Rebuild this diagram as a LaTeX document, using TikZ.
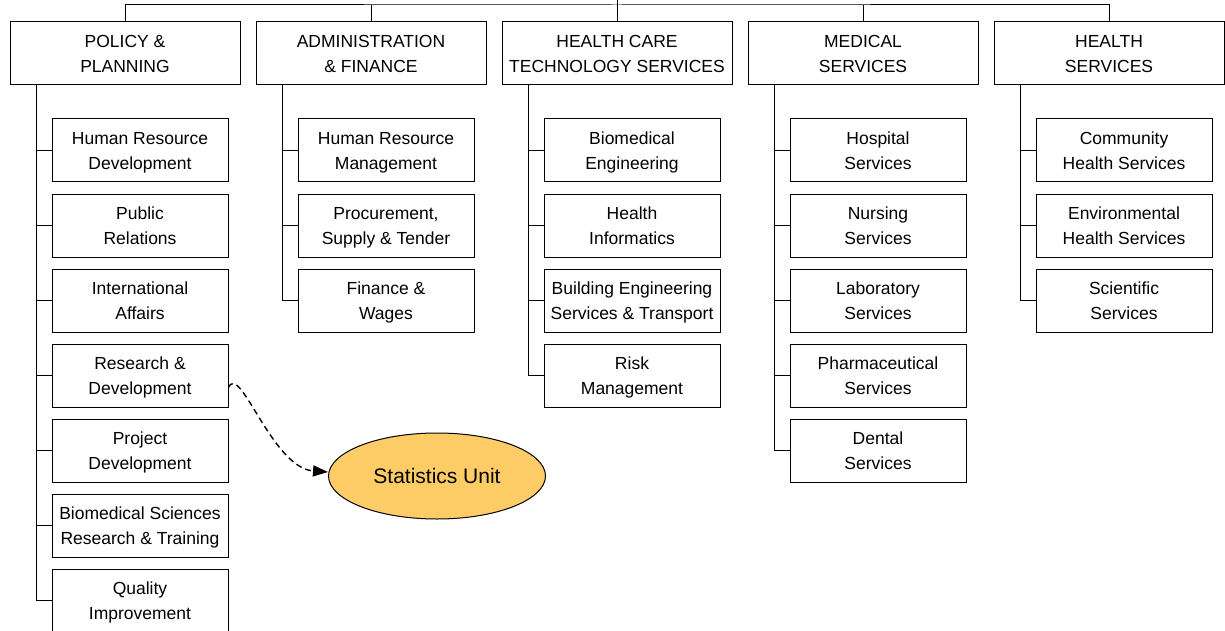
\documentclass[tikz,border=0pt]{standalone}
\usepackage{fontspec}
\setmainfont{Liberation Sans}
\usetikzlibrary{shapes.geometric,arrows.meta}
\definecolor{statfill}{RGB}{254,204,102}
\tikzset{
  base/.style={draw, line width=1pt, rectangle, align=center, inner sep=0pt,
    font=\fontsize{17.5}{25}\selectfont, text depth=0pt},
  head/.style={base, minimum width=230pt, minimum height=63pt},
  child/.style={base, minimum width=176pt, minimum height=63pt},
  conn/.style={line width=1pt},
  unit/.style={draw, line width=1pt, ellipse, fill=statfill, minimum width=217pt,
    minimum height=86pt, inner sep=0pt, font=\fontsize{21}{25}\selectfont},
  dashlink/.style={line width=1.4pt, dash pattern=on 6pt off 4pt,
    -{Triangle[length=15pt,width=11pt]}}
}
\begin{document}
\begin{tikzpicture}[x=1pt,y=-1pt]
\useasboundingbox (0,0) rectangle (1225,631);
\fill[white] (0,0) rectangle (1225,631);
% headers
\node[head] (h1) at (125,53.5) {POLICY \&\\PLANNING};
\node[head] (h2) at (371,53.5) {ADMINISTRATION\\\& FINANCE};
\node[head] (h3) at (617,53.5) {HEALTH CARE\\TECHNOLOGY SERVICES};
\node[head] (h4) at (863,53.5) {MEDICAL\\SERVICES};
\node[head] (h5) at (1109,53.5) {HEALTH\\SERVICES};
% top connectors
\coordinate (root) at (617,-2);
\coordinate (bar) at (617,5);
\draw[conn] (root) -- (bar);
\draw[conn] (h1.north) |- (bar) -| (h5.north);
\foreach \h in {h2,h3,h4} \draw[conn] (\h.north) -- (\h.north |- bar);
% spine tops
\foreach \h in {h1,h2,h3,h4,h5} \coordinate (\h s) at ([xshift=27pt]\h.south west);
% Policy children
\node[child] (p1) at (140,150.5) {Human Resource\\Development};
\node[child] (p2) at (140,225.5) {Public\\Relations};
\node[child] (p3) at (140,300.5) {International\\Affairs};
\node[child] (p4) at (140,375.5) {Research \&\\Development};
\node[child] (p5) at (140,450.5) {Project\\Development};
\node[child] (p6) at (140,525.5) {Biomedical Sciences\\Research \& Training};
\node[child] (p7) at (140,600.5) {Quality\\Improvement};
\foreach \c in {p1,p2,p3,p4,p5,p6,p7} \draw[conn] (h1s) |- (\c.west);
% Admin children
\node[child] (a1) at (386,150.5) {Human Resource\\Management};
\node[child] (a2) at (386,225.5) {Procurement,\\Supply \& Tender};
\node[child] (a3) at (386,300.5) {Finance \&\\Wages};
\foreach \c in {a1,a2,a3} \draw[conn] (h2s) |- (\c.west);
% HCTS children
\node[child] (t1) at (632,150.5) {Biomedical\\Engineering};
\node[child] (t2) at (632,225.5) {Health\\Informatics};
\node[child] (t3) at (632,300.5) {Building Engineering\\Services \& Transport};
\node[child] (t4) at (632,375.5) {Risk\\Management};
\foreach \c in {t1,t2,t3,t4} \draw[conn] (h3s) |- (\c.west);
% Medical children
\node[child] (m1) at (878,150.5) {Hospital\\Services};
\node[child] (m2) at (878,225.5) {Nursing\\Services};
\node[child] (m3) at (878,300.5) {Laboratory\\Services};
\node[child] (m4) at (878,375.5) {Pharmaceutical\\Services};
\node[child] (m5) at (878,450.5) {Dental\\Services};
\foreach \c in {m1,m2,m3,m4,m5} \draw[conn] (h4s) |- (\c.west);
% Health children
\node[child] (s1) at (1124,150.5) {Community\\Health Services};
\node[child] (s2) at (1124,225.5) {Environmental\\Health Services};
\node[child] (s3) at (1124,300.5) {Scientific\\Services};
\foreach \c in {s1,s2,s3} \draw[conn] (h5s) |- (\c.west);
% Statistics unit
\node[unit] (stat) at (437,476) {Statistics Unit};
\draw[dashlink] ([yshift=-12pt]p4.east) .. controls (240,362) and (272,468) .. ([yshift=4pt]stat.west);
\end{tikzpicture}
\end{document}
